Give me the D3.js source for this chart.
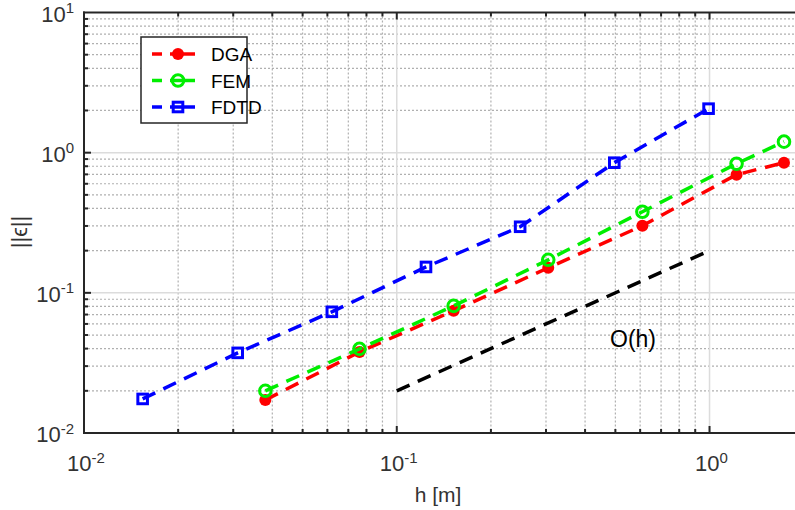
<!DOCTYPE html>
<meta charset="utf-8">
<style>
body { margin: 0; background: #fff; }
svg { font-family: "Liberation Sans", Arial, Helvetica, sans-serif; }
.grid-minor line { stroke: #b0b0b0; stroke-width: 1.2; stroke-dasharray: 2,2; }
.grid-major line { stroke: #dcdcdc; stroke-width: 1.5; }
.frame line { stroke: #262626; stroke-width: 2; }
.ticks line { stroke: #262626; stroke-width: 2; }
.lbl { fill: #333; }
</style>
<svg width="795" height="510"></svg>
<script src="https://cdn.jsdelivr.net/npm/d3@7"></script>
<script>

// values
var hDGA   = [0.038, 0.076, 0.152, 0.305, 0.61, 1.22, 1.73];
var errDGA = [0.0172, 0.0379, 0.0744, 0.151, 0.301, 0.697, 0.848];
var hFEM   = [0.038, 0.076, 0.152, 0.305, 0.61, 1.22, 1.73];
var errFEM = [0.020, 0.0398, 0.0807, 0.172, 0.379, 0.834, 1.198];
var hFDTD   = [0.0154, 0.031, 0.062, 0.124, 0.248, 0.496, 0.993];
var errFDTD = [0.0175, 0.0373, 0.0732, 0.153, 0.296, 0.848, 2.06];
var hRef   = [0.1, 1];
var errRef = [0.02, 0.2];
var xDecades = [-2, -1, 0];
var yDecades = [-2, -1, 0, 1];

var svg = d3.select("svg");
var pLeft = 84, pRight = 796, pTop = 12.5, pBottom = 433;

var x = d3.scaleLog().domain([0.01, 1.89]).range([pLeft, pRight]);
var y = d3.scaleLog().domain([0.01, 10]).range([pBottom, pTop]);

// minor positions 2..9 in each decade
var xMinor = [], yMinor = [];
[-2, -1, 0].forEach(function(e) {
  for (var k = 2; k <= 9; k++) {
    var v = k * Math.pow(10, e);
    if (v <= 1.89) xMinor.push(v);
  }
});
[-2, -1, 0].forEach(function(e) {
  for (var k = 2; k <= 9; k++) yMinor.push(k * Math.pow(10, e));
});

var gMinor = svg.append("g").attr("class", "grid-minor");
gMinor.selectAll(".vx").data(xMinor).enter().append("line")
    .attr("x1", d => x(d)).attr("x2", d => x(d)).attr("y1", pTop).attr("y2", pBottom);
gMinor.selectAll(".hy").data(yMinor).enter().append("line")
    .attr("y1", d => y(d)).attr("y2", d => y(d)).attr("x1", pLeft).attr("x2", pRight);

var gMajor = svg.append("g").attr("class", "grid-major");
gMajor.selectAll(".vx").data([0.1, 1]).enter().append("line")
    .attr("x1", d => x(d)).attr("x2", d => x(d)).attr("y1", pTop).attr("y2", pBottom);
gMajor.selectAll(".hy").data([0.1, 1]).enter().append("line")
    .attr("y1", d => y(d)).attr("y2", d => y(d)).attr("x1", pLeft).attr("x2", pRight);

// series
svg.append("clipPath").attr("id", "clip").append("rect")
    .attr("x", pLeft).attr("y", pTop).attr("width", pRight - pLeft).attr("height", pBottom - pTop);

var plot = svg.append("g").attr("clip-path", "url(#clip)");
var line = d3.line().x(d => x(d[0])).y(d => y(d[1]));

var series = [
  {name: "DGA",  h: hDGA,  e: errDGA,  color: "#ff0000", marker: "dot"},
  {name: "FEM",  h: hFEM,  e: errFEM,  color: "#00ee00", marker: "circle"},
  {name: "FDTD", h: hFDTD, e: errFDTD, color: "#0000ff", marker: "square"}
];

plot.append("path")
    .datum(d3.zip(hRef, errRef))
    .attr("d", line)
    .attr("fill", "none").attr("stroke", "#000").attr("stroke-width", 3.5)
    .attr("stroke-dasharray", "14,9");

function drawMarker(g, type, color, cx, cy) {
  if (type === "dot") {
    g.append("circle").attr("cx", cx).attr("cy", cy).attr("r", 6).attr("fill", color);
  } else if (type === "circle") {
    g.append("circle").attr("cx", cx).attr("cy", cy).attr("r", 5.8)
        .attr("fill", "none").attr("stroke", color).attr("stroke-width", 3);
  } else {
    g.append("rect").attr("x", cx - 4.8).attr("y", cy - 4.8).attr("width", 9.6).attr("height", 9.6)
        .attr("fill", "none").attr("stroke", color).attr("stroke-width", 3);
  }
}

series.forEach(function(s) {
  var pts = d3.zip(s.h, s.e);
  plot.append("path").datum(pts).attr("d", line)
      .attr("fill", "none").attr("stroke", s.color).attr("stroke-width", 3.5)
      .attr("stroke-dasharray", "14,9");
  pts.forEach(function(p) { drawMarker(plot, s.marker, s.color, x(p[0]), y(p[1])); });
});

// frame and ticks (inside)
var frame = svg.append("g").attr("class", "frame");
frame.append("line").attr("x1", pLeft).attr("x2", pLeft).attr("y1", pTop - 1).attr("y2", pBottom + 1);
frame.append("line").attr("x1", pLeft - 1).attr("x2", pRight).attr("y1", pBottom).attr("y2", pBottom);
frame.append("line").attr("x1", pLeft - 1).attr("x2", pRight).attr("y1", pTop).attr("y2", pTop);

var ticks = svg.append("g").attr("class", "ticks");
xDecades.map(e => Math.pow(10, e)).filter(v => v > 0.01).forEach(function(v) {
  ticks.append("line").attr("x1", x(v)).attr("x2", x(v)).attr("y1", pBottom).attr("y2", pBottom - 7);
  ticks.append("line").attr("x1", x(v)).attr("x2", x(v)).attr("y1", pTop).attr("y2", pTop + 7);
});
xMinor.forEach(function(v) {
  ticks.append("line").attr("x1", x(v)).attr("x2", x(v)).attr("y1", pBottom).attr("y2", pBottom - 4);
  ticks.append("line").attr("x1", x(v)).attr("x2", x(v)).attr("y1", pTop).attr("y2", pTop + 4);
});
yDecades.map(e => Math.pow(10, e)).filter(v => v > 0.01 && v < 10).forEach(function(v) {
  ticks.append("line").attr("x1", pLeft).attr("x2", pLeft + 7).attr("y1", y(v)).attr("y2", y(v));
});
yMinor.forEach(function(v) {
  ticks.append("line").attr("x1", pLeft).attr("x2", pLeft + 4).attr("y1", y(v)).attr("y2", y(v));
});

// tick labels with superscripts
function powLabel(g, px, py, exp, anchor) {
  var t = g.append("text").attr("class", "lbl").attr("x", px).attr("y", py)
      .attr("text-anchor", anchor).style("font-size", "22px");
  t.append("tspan").text("10");
  t.append("tspan").attr("dy", -8.5).style("font-size", "15px").text(String(exp));
}
var labels = svg.append("g");
xDecades.forEach(function(e) { powLabel(labels, x(Math.pow(10, e)) + 2, 471, e, "middle"); });
yDecades.forEach(function(e) { powLabel(labels, pLeft - 10, y(Math.pow(10, e)) + 9, e, "end"); });

svg.append("text").attr("class", "lbl").attr("x", 438).attr("y", 502)
    .attr("text-anchor", "middle").style("font-size", "21px").text("h [m]");
svg.append("text").attr("class", "lbl")
    .attr("transform", "translate(27,232) rotate(-90)")
    .attr("text-anchor", "middle").style("font-size", "22px").text("||\u03F5||");

svg.append("text").attr("class", "lbl").attr("x", 610).attr("y", 347)
    .style("font-size", "23px").style("fill", "#000").text("O(h)");

// legend
var lg = svg.append("g");
lg.append("rect").attr("x", 141).attr("y", 37).attr("width", 106).attr("height", 86)
    .attr("fill", "#fff").attr("stroke", "#262626").attr("stroke-width", 1.5);
series.forEach(function(s, i) {
  var ly = 54 + i * 26.5;
  lg.append("line").attr("x1", 152).attr("x2", 162).attr("y1", ly).attr("y2", ly)
      .attr("stroke", s.color).attr("stroke-width", 3.5);
  lg.append("line").attr("x1", 170).attr("x2", 195).attr("y1", ly).attr("y2", ly)
      .attr("stroke", s.color).attr("stroke-width", 3.5);
  drawMarker(lg, s.marker, s.color, 178, ly);
  lg.append("text").attr("class", "lbl").attr("x", 211).attr("y", ly + 7)
      .style("font-size", "19px").style("fill", "#000").text(s.name);
});

</script>
